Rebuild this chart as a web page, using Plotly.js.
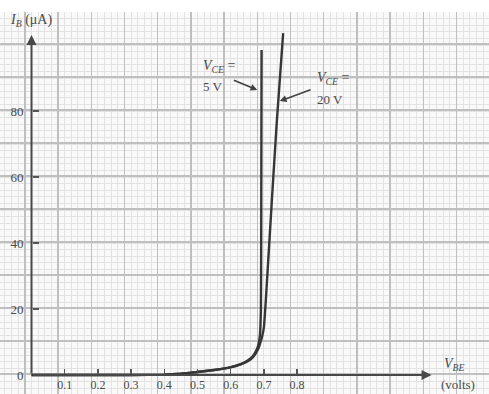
<!DOCTYPE html>
<html>
<head>
<meta charset="utf-8">
<script src="https://cdn.plot.ly/plotly-3.0.1.min.js"></script>
<style>
html,body{margin:0;padding:0;background:#fff;}
#chart{width:489px;height:394px;}
</style>
</head>
<body>
<div id="chart"></div>
<script>
// V_BE (volts) and I_B (µA)
const vbe5  = [0, 0.1, 0.2, 0.3, 0.4, 0.45, 0.5, 0.55, 0.6, 0.63, 0.65, 0.665, 0.675, 0.683, 0.688, 0.691, 0.692, 0.693];
const ib5   = [0, 0, 0, 0, 0.1, 0.4, 0.9, 1.5, 2.4, 3.3, 4.3, 5.5, 7.0, 9.0, 12, 20, 50, 98.5];
const vbe20 = [0, 0.1, 0.2, 0.3, 0.4, 0.45, 0.5, 0.55, 0.6, 0.63, 0.65, 0.665, 0.675, 0.684, 0.690, 0.695, 0.700, 0.706, 0.724, 0.739, 0.758];
const ib20  = [0, 0, 0, 0, 0.1, 0.4, 0.9, 1.5, 2.3, 3.2, 4.1, 5.2, 6.5, 8.2, 10, 11.8, 14.5, 23, 53, 77, 103.6];
const xTickVals = [0.1, 0.2, 0.3, 0.4, 0.5, 0.6, 0.7, 0.8];
const xTickText = ['0.1', '0.2', '0.3', '0.4', '0.5', '0.6', '0.7', '0.8'];
const yTickVals = [0, 20, 40, 60, 80];
const yTickText = ['0', '20', '40', '60', '80'];

const xRange = [-0.0949, 1.378];
const yRange = [-5.76, 110];
const ink = '#363636';
const txt = '#4a4a4a';
const serif = 'Liberation Serif, DejaVu Serif, serif';

const traces = [
  {x: vbe5, y: ib5, xaxis: 'x', yaxis: 'y', mode: 'lines', line: {color: ink, width: 2.4, shape: 'spline', smoothing: 0.4}, hoverinfo: 'skip', name: 'VCE = 5 V'},
  {x: vbe20, y: ib20, xaxis: 'x2', yaxis: 'y2', mode: 'lines', line: {color: ink, width: 2.4, shape: 'spline', smoothing: 0.3}, hoverinfo: 'skip', name: 'VCE = 20 V'}
];

const layout = {
  width: 489, height: 394,
  margin: {l: 0, r: 0, t: 12, b: 0},
  paper_bgcolor: '#ffffff',
  plot_bgcolor: '#f9f9f9',
  showlegend: false,
  xaxis: {
    range: xRange, showticklabels: false, ticks: '', zeroline: false, showline: false,
    showgrid: true, tick0: -0.02, dtick: 0.1, gridcolor: '#bfbfbf', gridwidth: 1.3,
    minor: {showgrid: true, dtick: 0.02, gridcolor: '#e3e3e3', gridwidth: 1}
  },
  yaxis: {
    range: yRange, showticklabels: false, ticks: '', zeroline: false, showline: false,
    showgrid: true, tick0: 0.3, dtick: 10, gridcolor: '#bfbfbf', gridwidth: 1.3,
    minor: {showgrid: true, dtick: 2, gridcolor: '#e3e3e3', gridwidth: 1}
  },
  xaxis2: {
    overlaying: 'x', anchor: 'free', position: 19 / 382, range: xRange,
    showgrid: false, zeroline: false, showline: false,
    tickmode: 'array', tickvals: xTickVals, ticktext: xTickText,
    ticks: 'inside', ticklen: 6, tickwidth: 1.5, tickcolor: '#555',
    tickfont: {family: serif, size: 12, color: txt}, ticklabelstandoff: 1
  },
  yaxis2: {
    overlaying: 'y', anchor: 'free', position: 31.5 / 489, side: 'left', range: yRange,
    showgrid: false, zeroline: false, showline: false,
    tickmode: 'array', tickvals: yTickVals, ticktext: yTickText,
    ticks: 'inside', ticklen: 6, tickwidth: 1.5, tickcolor: '#555',
    tickfont: {family: serif, size: 13, color: txt}, ticklabelstandoff: 8
  },
  annotations: [
    // axis lines with arrowheads
    {x: 0, y: 103, ax: 0, ay: 0, xref: 'x', yref: 'y', axref: 'x', ayref: 'y', text: '', showarrow: true,
     arrowhead: 2, arrowsize: 1, arrowwidth: 2, arrowcolor: '#484848'},
    {x: 1.205, y: 0, ax: 0, ay: 0, xref: 'x', yref: 'y', axref: 'x', ayref: 'y', text: '', showarrow: true,
     arrowhead: 2, arrowsize: 1, arrowwidth: 2, arrowcolor: '#484848'},
    // axis titles
    {x: -0.072, y: 107.5, xref: 'x', yref: 'y', xanchor: 'left', yanchor: 'middle', showarrow: false,
     text: '<i>I</i><sub><i>B</i></sub> (μA)', font: {family: serif, size: 14, color: txt}},
    {x: 1.235, y: 3.2, xref: 'x', yref: 'y', xanchor: 'left', yanchor: 'middle', showarrow: false,
     text: '<i>V</i><sub><i>BE</i></sub>', font: {family: serif, size: 14, color: txt}},
    {x: 1.228, y: -3.0, xref: 'x', yref: 'y', xanchor: 'left', yanchor: 'middle', showarrow: false,
     text: '(volts)', font: {family: serif, size: 13, color: txt}},
    // curve labels
    {x: 0.512, y: 93.5, xref: 'x', yref: 'y', xanchor: 'left', yanchor: 'middle', showarrow: false,
     text: '<i>V</i><sub><i>CE</i></sub> =', font: {family: serif, size: 14, color: txt}},
    {x: 0.512, y: 87.5, xref: 'x', yref: 'y', xanchor: 'left', yanchor: 'middle', showarrow: false,
     text: '5 V', font: {family: serif, size: 13, color: txt}},
    {x: 0.853, y: 90, xref: 'x', yref: 'y', xanchor: 'left', yanchor: 'middle', showarrow: false,
     text: '<i>V</i><sub><i>CE</i></sub> =', font: {family: serif, size: 14, color: txt}},
    {x: 0.853, y: 83.5, xref: 'x', yref: 'y', xanchor: 'left', yanchor: 'middle', showarrow: false,
     text: '20 V', font: {family: serif, size: 13, color: txt}},
    // pointer arrows
    {x: 0.680, y: 86.4, ax: 0.605, ay: 89.5, xref: 'x', yref: 'y', axref: 'x', ayref: 'y', text: '', showarrow: true,
     arrowhead: 2, arrowsize: 0.9, arrowwidth: 1.5, arrowcolor: '#404040'},
    {x: 0.748, y: 83.0, ax: 0.845, ay: 86.6, xref: 'x', yref: 'y', axref: 'x', ayref: 'y', text: '', showarrow: true,
     arrowhead: 2, arrowsize: 0.9, arrowwidth: 1.5, arrowcolor: '#404040'}
  ]
};

Plotly.newPlot('chart', traces, layout, {staticPlot: true, displayModeBar: false});
</script>
</body>
</html>
